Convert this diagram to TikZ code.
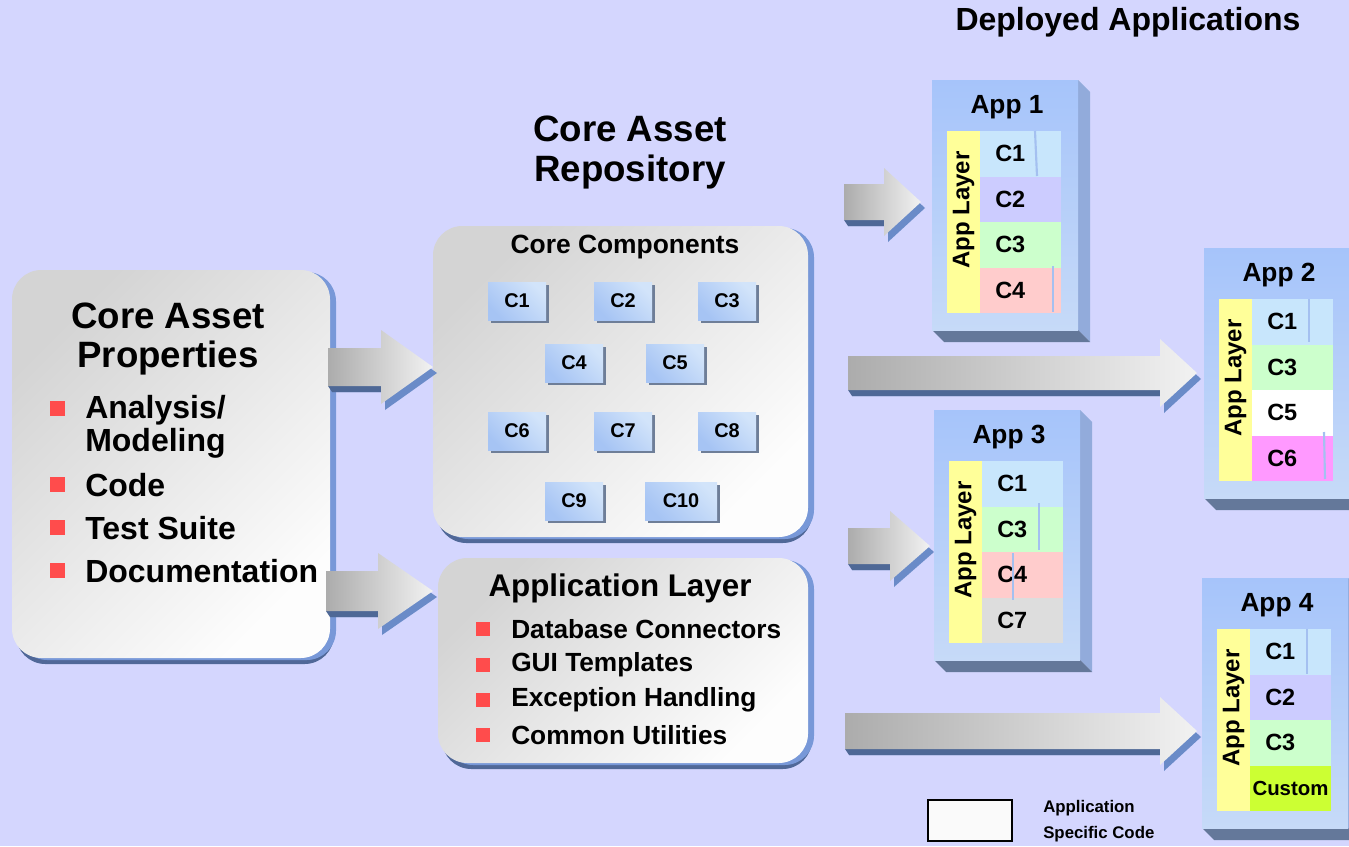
\documentclass[tikz,border=0pt]{standalone}
\usepackage{fontspec}
\setmainfont{Liberation Sans}
\usetikzlibrary{calc}

\definecolor{bg}{RGB}{212,214,254}
\definecolor{shdark}{RGB}{80,104,152}
\definecolor{shlight}{RGB}{120,152,216}
\definecolor{panelA}{RGB}{212,212,212}
\definecolor{panelB}{RGB}{253,253,253}
\definecolor{arrowL}{RGB}{172,172,172}
\definecolor{arrowR}{RGB}{242,242,242}
\definecolor{arrowedge}{RGB}{106,139,200}
\definecolor{arrowbase}{RGB}{78,104,150}
\definecolor{bullet}{RGB}{255,76,76}
\definecolor{frontA}{RGB}{166,196,250}
\definecolor{frontB}{RGB}{198,218,248}
\definecolor{sideface}{RGB}{146,171,219}
\definecolor{bottomface}{RGB}{100,120,154}
\definecolor{appyellow}{RGB}{255,255,153}
\definecolor{rowA}{RGB}{200,230,252}
\definecolor{rowB}{RGB}{204,204,255}
\definecolor{rowC}{RGB}{204,255,204}
\definecolor{rowD}{RGB}{255,204,204}
\definecolor{rowE}{RGB}{255,255,255}
\definecolor{rowF}{RGB}{255,153,255}
\definecolor{rowG}{RGB}{221,221,221}
\definecolor{rowH}{RGB}{204,255,51}
\definecolor{seam}{RGB}{164,192,240}
\definecolor{compA}{RGB}{166,196,244}
\definecolor{compB}{RGB}{210,228,250}
\definecolor{compshadow}{RGB}{110,126,152}

\tikzset{
  txt/.style={inner sep=0pt, text=black},
  bigtitle/.style={txt, align=center, font=\bfseries\fontsize{27.5}{29.5}\selectfont},
  reptitle/.style={txt, align=center, font=\bfseries\fontsize{27.5}{30}\selectfont},
  deptitle/.style={txt, font=\bfseries\fontsize{24}{26}\selectfont},
  subtitle/.style={txt, font=\bfseries\fontsize{19.8}{22}\selectfont},
  layertitle/.style={txt, font=\bfseries\fontsize{23.5}{26}\selectfont},
  propitem/.style={txt, anchor=west, align=left, font=\bfseries\fontsize{24}{24.8}\selectfont},
  layeritem/.style={txt, anchor=west, font=\bfseries\fontsize{19.7}{22}\selectfont},
  apptitle/.style={txt, font=\bfseries\fontsize{19.7}{22}\selectfont},
  comptext/.style={txt, font=\bfseries\fontsize{17.6}{20}\selectfont},
  customtext/.style={txt, font=\bfseries\fontsize{15.3}{18}\selectfont},
  layertext/.style={txt, rotate=90, font=\bfseries\fontsize{18}{20}\selectfont},
  corecomp/.style={txt, minimum height=38*0.75pt, top color=compB, bottom color=compA,
    shading angle=-45, font=\bfseries\fontsize{14.9}{17}\selectfont},
  legendtext/.style={txt, anchor=west, align=left, font=\bfseries\fontsize{12.6}{19.5}\selectfont},
  panelshade/.style={top color=panelA, bottom color=panelB, shading angle=45},
  square/.style={fill=bullet},
}

% rounded grey panel with a two-tone blue drop shadow
\newcommand{\panelbox}[4]{%
  \fill[shdark, rounded corners=22pt] ({#1+4},{#2+6}) rectangle ({#3+4},{#4+6});
  \fill[shlight, rounded corners=22pt] ({#1+6},{#2+2}) rectangle ({#3+6},{#4+2});
  \shade[panelshade, rounded corners=22pt] (#1,#2) rectangle (#3,#4);
}

% block arrow: shaft start, head start, tip, centre line, half shaft, half head
\newcommand{\blockarrow}[6]{%
  \fill[arrowedge, shift={(4,6)}] (#1,{#4-#5}) -- (#2,{#4-#5}) -- (#2,{#4-#6}) -- (#3,#4)
    -- (#2,{#4+#6}) -- (#2,{#4+#5}) -- (#1,{#4+#5}) -- cycle;
  \fill[arrowbase] (#1,{#4+#5}) -- (#2,{#4+#5}) -- ({#2+4},{#4+#5+6}) -- ({#1+4},{#4+#5+6}) -- cycle;
  \shade[left color=arrowL, right color=arrowR] (#1,{#4-#5}) -- (#2,{#4-#5}) -- (#2,{#4-#6}) -- (#3,#4)
    -- (#2,{#4+#6}) -- (#2,{#4+#5}) -- (#1,{#4+#5}) -- cycle;
}

% extruded application block with its yellow layer strip
\newcommand{\appbox}[4]{% name, x0, y0, title
  \fill[sideface] ({#2+146},#3) -- ({#2+158},{#3+12}) -- ({#2+158},{#3+262}) -- ({#2+146},{#3+250}) -- cycle;
  \fill[bottomface] (#2,{#3+250}) -- ({#2+146},{#3+250}) -- ({#2+158},{#3+262}) -- ({#2+12},{#3+262}) -- cycle;
  \shade[top color=frontA, bottom color=frontB] (#2,#3) rectangle ({#2+146},{#3+250});
  \fill[appyellow] ({#2+15},{#3+51}) rectangle ({#2+48},{#3+233});
  \node[apptitle] (#1) at ({#2+75},{#3+27}) {#4};
  \node[layertext] (#1-layer) at ({#2+31.5},{#3+130}) {App Layer};
}

% one component row inside an application block
\newcommand{\approw}[6]{% x0, y0, index, colour, name, label
  \fill[#4] ({#1+48},{#2+51+45.5*#3}) rectangle ({#1+129},{#2+51+45.5*(#3+1)});
  \node[comptext, anchor=west] (#5) at ({#1+63},{#2+51+45.5*#3+22.75}) {#6};
}

% small shaded component tile with its shadow
\newcommand{\coretile}[5]{% name, cx, cy, width, label
  \fill[compshadow] ({#2-#4/2+3},{#3-19+3}) rectangle ({#2+#4/2+3},{#3+19+3});
  \node[corecomp, minimum width=#4*0.75pt] (#1) at (#2,#3) {#5};
}

\begin{document}
\begin{tikzpicture}[x=0.75pt,y=-0.75pt]
\useasboundingbox (0,0) rectangle (1349,846);
\clip (0,0) rectangle (1349,846);
\fill[bg] (0,0) rectangle (1349,846);

% ---------- Core asset properties ----------
\panelbox{12}{270}{330}{658}
\node[bigtitle] (props) at (168,339) {Core Asset\\Properties};
\fill[square] (50,401) rectangle (65,416);
\node[propitem] (analysis) at (85,427) {Analysis/\\Modeling};
\fill[square] (50,477) rectangle (65,492);
\node[propitem] (code) at (85,485) {Code};
\fill[square] (50,520) rectangle (65,535);
\node[propitem] (tests) at (85,528) {Test Suite};
\fill[square] (50,563) rectangle (65,578);
\node[propitem] (docs) at (85,571) {Documentation};

% ---------- Repository ----------
\node[reptitle] (repo) at (630,153) {Core Asset\\Repository};

\panelbox{433}{226}{808}{537}
\node[subtitle] (corecomps) at (625,247) {Core Components};
\coretile{cc1}{517}{301}{58}{C1}
\coretile{cc2}{623}{301}{58}{C2}
\coretile{cc3}{727}{301}{58}{C3}
\coretile{cc4}{574}{363}{58}{C4}
\coretile{cc5}{675}{363}{58}{C5}
\coretile{cc6}{517}{431}{58}{C6}
\coretile{cc7}{623}{431}{58}{C7}
\coretile{cc8}{727}{431}{58}{C8}
\coretile{cc9}{574}{501}{58}{C9}
\coretile{cc10}{681}{501}{72}{C10}

\panelbox{438}{558}{808}{763}
\node[layertitle] (applayer) at (620,588) {Application Layer};
\foreach \yy/\nm/\tx in {629/db/Database Connectors, 665/gui/GUI Templates,
                         700/exc/Exception Handling, 735/util/Common Utilities} {
  \fill[square] (476,\yy-7) rectangle (490,\yy+7);
  \node[layeritem] (\nm) at (511,\yy) {\tx};
}

% ---------- Arrows ----------
\blockarrow{328}{381}{433}{367}{19}{37}
\blockarrow{326}{378}{433}{591}{20}{38}
\blockarrow{844}{884}{921}{202}{18}{34}
\blockarrow{848}{1160}{1197}{373}{17}{34}
\blockarrow{848}{890}{930}{546}{18}{35}
\blockarrow{845}{1160}{1197}{731}{18}{34}

% ---------- Deployed applications ----------
\node[deptitle] (deployed) at (1128,22) {Deployed Applications};

\appbox{app1}{932}{80}{App 1}
\approw{932}{80}{0}{rowA}{a1c1}{C1}
\approw{932}{80}{1}{rowB}{a1c2}{C2}
\approw{932}{80}{2}{rowC}{a1c3}{C3}
\approw{932}{80}{3}{rowD}{a1c4}{C4}
\draw[seam, line width=1.6pt] (1035,131) -- (1037,176);
\draw[seam, line width=1.6pt] (1053,266) -- (1053,312);

\appbox{app2}{1204}{248}{App 2}
\approw{1204}{248}{0}{rowA}{a2c1}{C1}
\approw{1204}{248}{1}{rowC}{a2c3}{C3}
\approw{1204}{248}{2}{rowE}{a2c5}{C5}
\approw{1204}{248}{3}{rowF}{a2c6}{C6}
\draw[seam, line width=1.6pt] (1309,299) -- (1309,342);
\draw[seam, line width=1.6pt] (1324,432) -- (1325,479);

\appbox{app3}{934}{410}{App 3}
\approw{934}{410}{0}{rowA}{a3c1}{C1}
\approw{934}{410}{1}{rowC}{a3c3}{C3}
\approw{934}{410}{2}{rowD}{a3c4}{C4}
\approw{934}{410}{3}{rowG}{a3c7}{C7}
\draw[seam, line width=1.6pt] (1039,503) -- (1039,550);
\draw[seam, line width=1.6pt] (1013,553) -- (1013,600);

\appbox{app4}{1202}{578}{App 4}
\approw{1202}{578}{0}{rowA}{a4c1}{C1}
\approw{1202}{578}{1}{rowB}{a4c2}{C2}
\approw{1202}{578}{2}{rowC}{a4c3}{C3}
\fill[rowH] (1250,{578+51+45.5*3}) rectangle (1331,{578+233});
\node[customtext] (a4custom) at (1290.5,{578+51+45.5*3+22.75}) {Custom};
\draw[seam, line width=1.6pt] (1307,629) -- (1307,674);

% ---------- Legend ----------
\node[draw=black, line width=1pt, fill=white!98!black, minimum width=84*0.75pt,
      minimum height=41*0.75pt, inner sep=0pt] (legend) at (970,820.5) {};
\node[legendtext] (legendlabel) at (1043,821) {Application\\Specific Code};
\end{tikzpicture}
\end{document}
